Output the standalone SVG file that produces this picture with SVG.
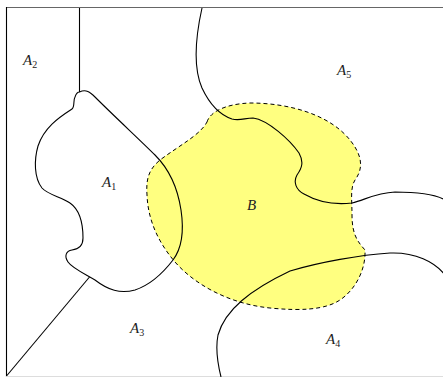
<svg xmlns="http://www.w3.org/2000/svg" width="443" height="377" viewBox="0 0 443 377">
<style>
.ln{fill:none;stroke:#000;stroke-width:1.1}
.lbl{font-family:"Liberation Serif",serif;font-style:italic;font-size:15px;fill:#222}
.sub{font-style:normal;font-size:10px}
</style>
<rect width="443" height="377" fill="#fff"/>
<g id="B">
<path d="M 207,122 C 210,112 225,104 250,103 C 290,103 330,115 350,140 C 362,155 364,168 355,180 C 350,188 352,200 352,215 C 352,235 358,242 365,250 C 366,270 355,290 340,300 C 325,310 300,311 270,308 C 230,304 195,285 175,262 C 158,242 148,220 147,195 C 146,180 148,170 160,160 C 180,145 200,135 207,122 Z" fill="#ffff80" stroke="#000" stroke-width="1" stroke-dasharray="4,3"/>
</g>
<g id="frame">
<line x1="6" y1="7.5" x2="443" y2="7.5" stroke="#666" stroke-width="1.2"/>
<line x1="6.5" y1="7" x2="6.5" y2="377" stroke="#000" stroke-width="1.1"/>
<line x1="6" y1="376.5" x2="443" y2="376.5" stroke="#ddd" stroke-width="1"/>
</g>
<g id="connectors">
<line class="ln" x1="79.5" y1="8" x2="79.5" y2="92"/>
<line class="ln" x1="89.5" y1="277" x2="6.5" y2="376"/>
<path class="ln" d="M 202,8 C 196,35 192,65 202,88 C 210,105 220,115 232,119 C 240,121 245,118 253,118 C 268,120 290,140 299,153 C 304,162 302,168 297,175 C 293,182 296,190 304,194 C 318,202 335,205 352,203 C 365,200 375,193 395,192 C 415,192 435,194 445,200"/>
<path class="ln" d="M 221,377 C 218,365 215,350 218,335 C 225,310 250,290 290,271 C 320,262 360,255 390,253 C 415,252 435,262 445,275"/>
</g>
<g id="A1">
<path class="ln" d="M 79.5,92 C 86,89 90,92 95,97 C 115,117 140,140 155,155 C 170,170 178,190 181,210 C 184,230 182,248 173,260 C 163,273 150,285 135,290 C 120,294 108,290 95,280 C 85,274 72,268 68,262 C 64,256 66,251 72,250 C 80,249 83,245 83,238 C 83,225 80,210 70,203 C 62,197 48,195 42,188 C 34,178 34,160 38,146 C 44,128 58,118 72,109 C 75,107 73,100 75,97 C 76,94 78,92 79.5,92 Z"/>
<text class="lbl" x="102" y="187">A<tspan class="sub" dy="3">1</tspan></text>
</g>
<g id="A2"><text class="lbl" x="23" y="65">A<tspan class="sub" dy="3">2</tspan></text></g>
<g id="A3"><text class="lbl" x="130" y="333">A<tspan class="sub" dy="3">3</tspan></text></g>
<g id="A4"><text class="lbl" x="326" y="344">A<tspan class="sub" dy="3">4</tspan></text></g>
<g id="A5"><text class="lbl" x="337" y="75">A<tspan class="sub" dy="3">5</tspan></text></g>
<g id="Blabel"><text class="lbl" x="247" y="210">B</text></g>
</svg>
